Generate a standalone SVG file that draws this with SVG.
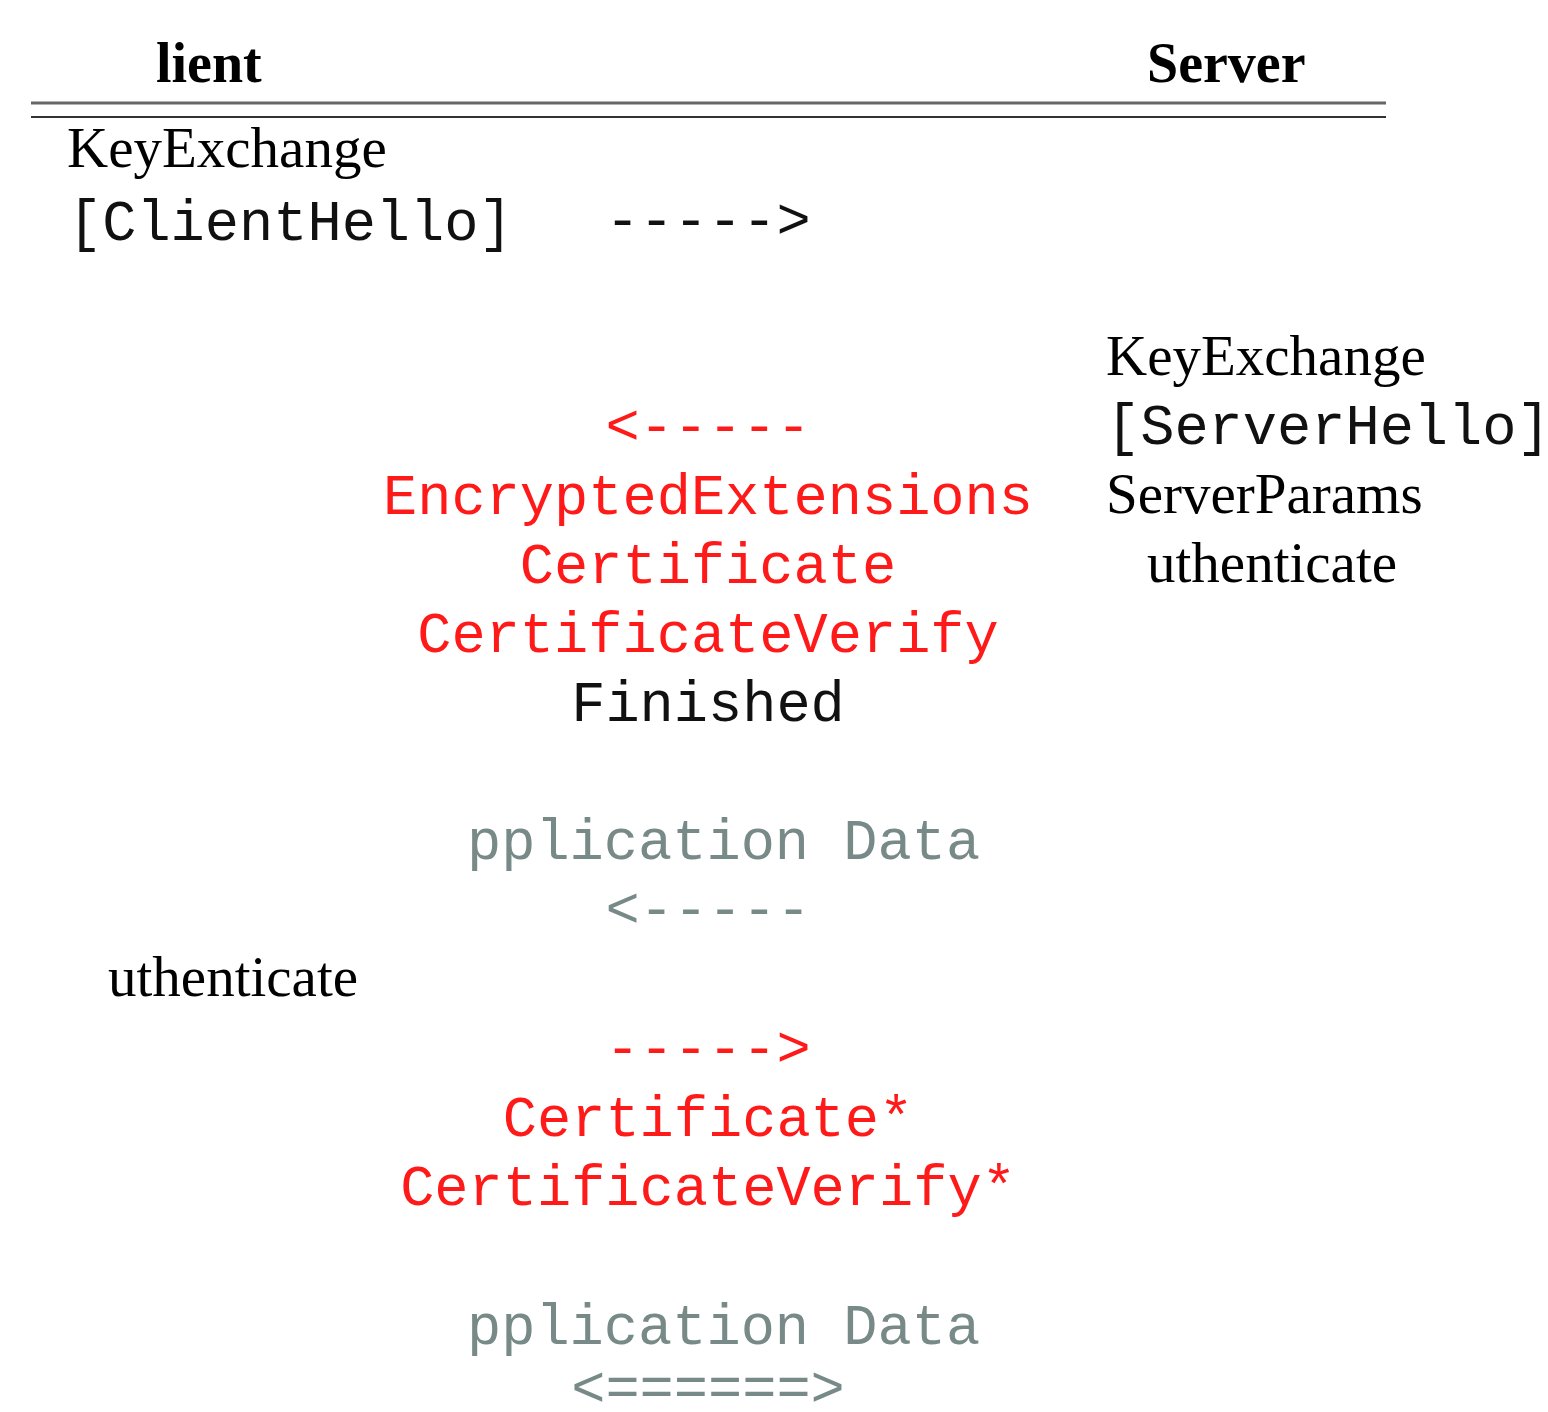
<svg xmlns="http://www.w3.org/2000/svg" width="1548" height="1412" viewBox="0 0 1548 1412">
  <style>
    .hdr { font-family: "Liberation Serif", "Times New Roman", serif; font-weight: bold; font-size: 56px; fill: #000; }
    .ser { font-family: "Liberation Serif", "Times New Roman", serif; font-size: 57px; fill: #000; }
    .mono { font-family: "Liberation Mono", "Courier New", monospace; font-size: 57px; }
    .blk { fill: #111; }
    .red { fill: #ff1a1a; }
    .gry { fill: #778a88; }
    .mid { text-anchor: middle; }
  </style>
  <rect width="1548" height="1412" fill="#fff"/>

  <!-- column headers -->
  <g id="header">
    <text class="hdr" x="156" y="82">lient</text>
    <text class="hdr" x="1147" y="82">Server</text>
    <line x1="31" y1="103" x2="1386" y2="103" stroke="#666" stroke-width="3"/>
    <line x1="31" y1="117" x2="1386" y2="117" stroke="#333" stroke-width="2"/>
  </g>

  <!-- client hello -->
  <g id="client-hello">
    <text class="ser" x="67" y="167">KeyExchange</text>
    <text class="mono blk" x="68" y="240">[ClientHello]</text>
  </g>

  <!-- server hello and server flight -->
  <g id="server-hello">
    <text class="ser" x="1106" y="375">KeyExchange</text>
    <text class="mono blk" x="1106" y="444">[ServerHello]</text>
    <text class="ser" x="1106" y="513">ServerParams</text>
    <text class="ser" x="1147" y="582">uthenticate</text>
  </g>

  <g id="server-flight">
    <text class="mono red mid" x="708" y="514">EncryptedExtensions</text>
    <text class="mono red mid" x="708" y="583">Certificate</text>
    <text class="mono red mid" x="708" y="652">CertificateVerify</text>
    <text class="mono blk mid" x="708" y="721">Finished</text>
    <text class="mono gry" x="467" y="859">pplication Data</text>
  </g>

  <!-- client authentication -->
  <g id="client-auth">
    <text class="ser" x="108" y="996">uthenticate</text>
    <text class="mono red mid" x="708" y="1136">Certificate*</text>
    <text class="mono red mid" x="708" y="1205">CertificateVerify*</text>
    <text class="mono gry" x="467" y="1344">pplication Data</text>
  </g>

  <!-- message direction arrows -->
  <g id="connectors">
    <text class="mono blk mid" x="708" y="238">-----&gt;</text>
    <text class="mono red mid" x="708" y="444">&lt;-----</text>
    <text class="mono gry mid" x="708" y="927">&lt;-----</text>
    <text class="mono red mid" x="708" y="1066">-----&gt;</text>
    <text class="mono gry mid" x="708" y="1406">&lt;======&gt;</text>
  </g>
</svg>
